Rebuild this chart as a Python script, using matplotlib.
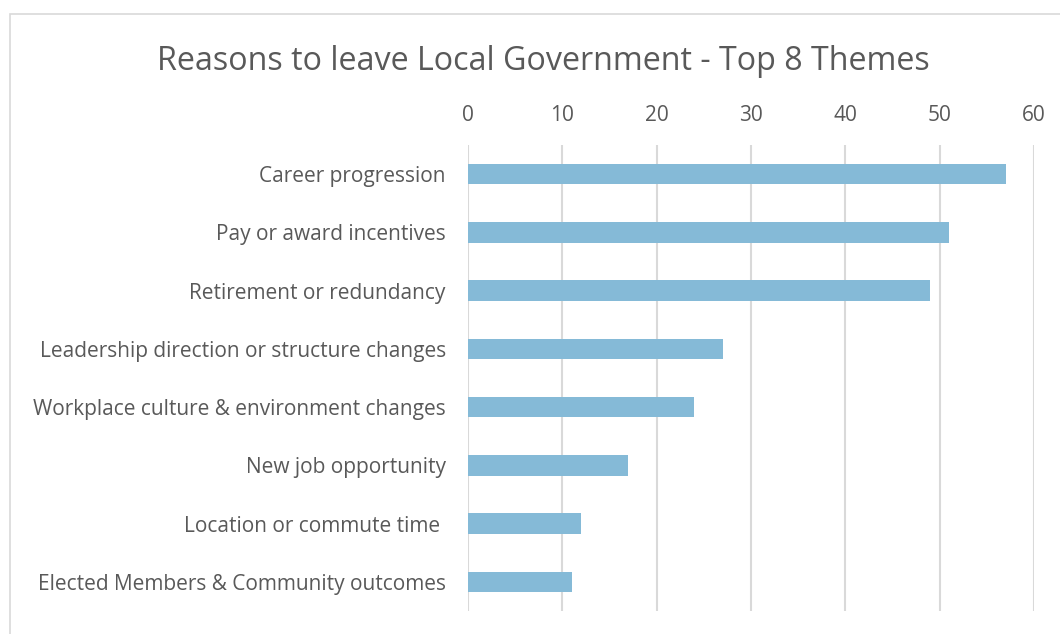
import matplotlib
matplotlib.use("Agg")
import matplotlib.pyplot as plt
from matplotlib.patches import Rectangle

categories = [
    "Career progression",
    "Pay or award incentives",
    "Retirement or redundancy",
    "Leadership direction or structure changes",
    "Workplace culture & environment changes",
    "New job opportunity",
    "Location or commute time ",
    "Elected Members & Community outcomes",
]
values = [57, 51, 49, 27, 24, 17, 12, 11]
x_ticks = [0, 10, 20, 30, 40, 50, 60]

plt.rcParams["font.family"] = ["Open Sans", "DejaVu Sans"]
text_color = "#595959"
grid_color = "#D9D9D9"
bar_color = "#85BAD7"

W, H = 1060, 634
fig = plt.figure(figsize=(W / 100, H / 100), dpi=100)

# chart area outline
fig.patches.append(Rectangle((10 / W, -0.1), 1.2, 1 - 14 / H + 0.1,
                             transform=fig.transFigure, fill=False,
                             edgecolor=grid_color, linewidth=1.2))

ax = fig.add_axes([468 / W, 1 - 611 / H, (1034 - 468) / W, (611 - 145) / H])
pos = list(range(len(categories)))
ax.barh(pos, values, height=0.35, color=bar_color, zorder=3)
ax.set_ylim(len(categories) - 0.5, -0.5)
ax.set_xlim(0, 60)
ax.set_yticks(pos)
ax.set_yticklabels(categories, fontsize=15, color=text_color)
ax.set_xticks(x_ticks)
ax.set_xticklabels([str(t) for t in x_ticks], fontsize=15, color=text_color)
ax.xaxis.tick_top()
ax.tick_params(axis="both", length=0)
ax.tick_params(axis="y", pad=16)
ax.tick_params(axis="x", pad=14)
ax.grid(axis="x", color=grid_color, linewidth=1.5, zorder=0)
for s in ax.spines.values():
    s.set_visible(False)

fig.text(543 / W, 1 - 61 / H, "Reasons to leave Local Government - Top 8 Themes",
         ha="center", va="center", fontsize=23.2, color=text_color)

fig.savefig("out.png", dpi=100)
